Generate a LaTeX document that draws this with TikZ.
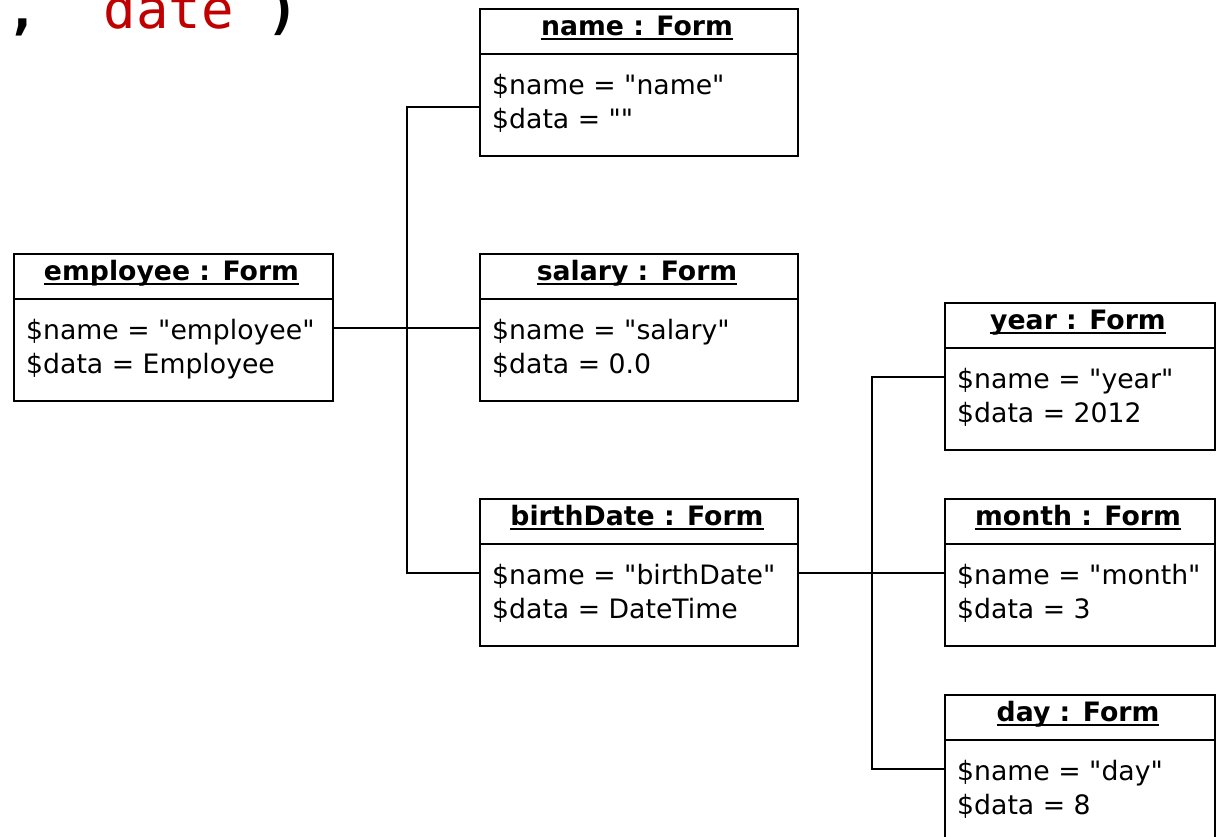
\documentclass[tikz,border=0pt]{standalone}
\usepackage{fontspec}
\setmainfont{DejaVu Sans}[Ligatures=TeXOff]
\setmonofont{DejaVu Sans Mono}
\usetikzlibrary{calc}
\definecolor{codered}{RGB}{192,0,0}

\newcommand\dq{\symbol{34}}

\tikzset{
  objbox/.style={draw, line width=2pt, inner sep=0pt, minimum height=147pt,
                 anchor=north west},
  rule/.style={line width=2pt},
  objtitle/.style={inner sep=0pt, anchor=base, font=\fontsize{26.7}{34}\selectfont\bfseries},
  attr/.style={inner sep=0pt, anchor=base west, font=\fontsize{26.7}{34}\selectfont},
  link/.style={line width=2pt},
  code/.style={inner sep=0pt, anchor=base west, font=\fontsize{54}{60}\selectfont\ttfamily}
}

% One object box: name, left, top, width, title, first attribute, second attribute
\newcommand\formobj[7]{%
  \node[objbox, minimum width=#4pt] (#1) at (#2,#3) {};
  \draw[rule] ([yshift=-46pt]#1.north west) -- ([yshift=-46pt]#1.north east);
  \node[objtitle] (#1-t) at ([xshift=-2pt,yshift=-27.5pt]#1.north) {#5};
  \draw[line width=2pt] ([yshift=-3pt]#1-t.base west) -- ([yshift=-3pt]#1-t.base east);
  \node[attr] (#1-a) at ([xshift=13pt,yshift=-86.5pt]#1.north west) {#6};
  \node[attr] (#1-b) at ([xshift=13pt,yshift=-120.5pt]#1.north west) {#7};
}

\begin{document}
\begin{tikzpicture}[x=1pt,y=-1pt]
  \useasboundingbox (0,0) rectangle (1219,836);
  \clip (0,0) rectangle (1219,836);

  % tail of a code line
  \node[code] (codetail) at (6,28) {\textbf{,}\ \ \textcolor{codered}{date}\ \textbf{)}};

  \formobj{employee}{13}{253}{319}{employee : Form}{\$name = \dq employee\dq}{\$data = Employee}
  \formobj{name}{479}{8}{318}{name : Form}{\$name = \dq name\dq}{\$data = \dq\dq}
  \formobj{salary}{479}{253}{318}{salary : Form}{\$name = \dq salary\dq}{\$data = 0.0}
  \formobj{birthDate}{479}{498}{318}{birthDate : Form}{\$name = \dq birthDate\dq}{\$data = DateTime}
  \formobj{year}{944}{302}{270}{year : Form}{\$name = \dq year\dq}{\$data = 2012}
  \formobj{month}{944}{498}{270}{month : Form}{\$name = \dq month\dq}{\$data = 3}
  \formobj{day}{944}{694}{270}{day : Form}{\$name = \dq day\dq}{\$data = 8}

  % employee and its fields
  \coordinate (j1) at ($(employee.east)!0.5!(salary.west)$);
  \draw[link] (employee.east) -- (salary.west);
  \draw[link] (j1) |- ([yshift=-24.5pt]name.west);
  \draw[link] (j1) |- (birthDate.west);

  % birthDate and its fields
  \coordinate (j2) at ($(birthDate.east)!0.5!(month.west)$);
  \draw[link] (birthDate.east) -- (month.west);
  \draw[link] (j2) |- (year.west);
  \draw[link] (j2) |- (day.west);
\end{tikzpicture}
\end{document}
